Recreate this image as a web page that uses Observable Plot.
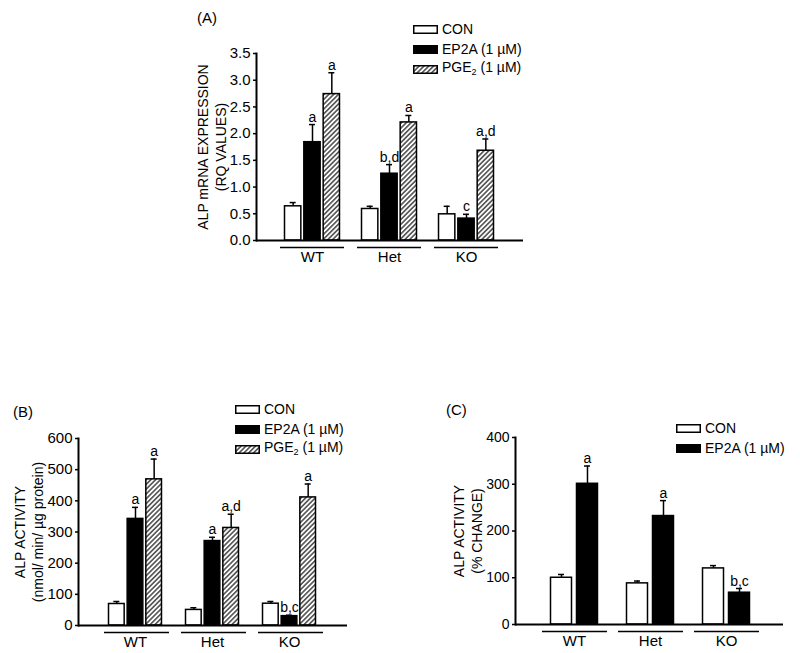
<!DOCTYPE html>
<html><head><meta charset="utf-8">
<script src="https://cdn.jsdelivr.net/npm/d3@7"></script>
<script src="https://cdn.jsdelivr.net/npm/@observablehq/plot@0.6"></script>
<style>
body{margin:0;background:#fff;}
#root{position:relative;width:800px;height:653px;overflow:hidden;background:#fff;font-family:"Liberation Sans",Arial,sans-serif;color:#000;}
.lab{position:absolute;font-size:15px;line-height:15px;white-space:nowrap}
.leg{position:absolute;font-size:14px;}
.leg .row{display:flex;align-items:center;height:20px;white-space:nowrap;line-height:14px}
.leg svg{margin-right:4px;flex:none}
</style></head><body>
<div id="root">
<svg width="0" height="0" style="position:absolute"><defs>
<pattern id="hatch" patternUnits="userSpaceOnUse" width="3.4" height="3.4" patternTransform="rotate(45)">
<rect width="3.4" height="3.4" fill="white"/><line x1="1.7" y1="0" x2="1.7" y2="3.4" stroke="black" stroke-width="1.1"/></pattern>
</defs></svg>
</div>
<script>
// ---------- data ----------
const groups = ["WT", "Het", "KO"];

// Panel A: ALP mRNA expression (RQ values)
const aCON = [0.64, 0.59, 0.49], aCONerr = [0.07, 0.05, 0.15];
const aEP2A = [1.84, 1.25, 0.41], aEP2Aerr = [0.33, 0.17, 0.08];
const aPGE2 = [2.74, 2.21, 1.68], aPGE2err = [0.40, 0.13, 0.22];
const aEP2Alet = ["a", "b,d", "c"], aPGE2let = ["a", "a", "a,d"];
const aTicks = [0, 0.5, 1.0, 1.5, 2.0, 2.5, 3.0, 3.5];

// Panel B: ALP activity (nmol/min/µg protein)
const bCON = [69, 50, 70], bCONerr = [8, 7, 7];
const bEP2A = [342, 271, 30], bEP2Aerr = [37, 12, 3];
const bPGE2 = [469, 313, 411], bPGE2err = [65, 44, 43];
const bEP2Alet = ["a", "a", "b,c"], bPGE2let = ["a", "a,d", "a"];
const bTicks = [0, 100, 200, 300, 400, 500, 600];

// Panel C: ALP activity (% change)
const cCON = [100, 88, 120], cCONerr = [7, 5, 6];
const cEP2A = [301, 232, 68], cEP2Aerr = [38, 33, 9];
const cEP2Alet = ["a", "a", "b,c"];
const cTicks = [0, 100, 200, 300, 400];

const FILL = {CON: "white", EP2A: "black", PGE2: "url(#hatch)"};
const LEG = {CON: "CON", EP2A: "EP2A (1 µM)", PGE2: "PGE<sub style='font-size:9px;vertical-align:-3px'>2</sub> (1 µM)"};

const root = document.getElementById("root");

function drawPanel(cfg) {
  const {series, left, top, width, height, mt, mr, mb, ml, range, paddingInner, gap,
         yDomain, yTicks, yFormat, tickFont, ylabel, ylabelDx, underL, underR} = cfg;
  const n = series.length;
  const band = d3.scaleBand().domain(groups).range(range).paddingInner(paddingInner).paddingOuter(0);
  const bw = band.bandwidth(), w = bw / n, cap = 6;
  const marks = [];
  series.forEach((s, t) => {
    const rows = groups.map((g, i) => ({group: g, mean: s.values[i], top: s.values[i] + s.errs[i], letter: s.lets ? s.lets[i] : ""}));
    const off = (t + 0.5) * w - bw / 2;
    marks.push(
      Plot.barY(rows, {x: "group", y: "mean", fill: FILL[s.key], stroke: "black", strokeWidth: 1.5,
        insetLeft: t * w + gap / 2, insetRight: (n - 1 - t) * w + gap / 2}),
      Plot.ruleX(rows, {x: "group", y1: "mean", y2: "top", dx: off, strokeWidth: 1.5}),
      Plot.tickY(rows, {x: "group", y: "top", dx: off, insetLeft: (bw - cap) / 2, insetRight: (bw - cap) / 2, strokeWidth: 1.5}),
      Plot.text(rows.filter(r => r.letter), {x: "group", y: "top", text: "letter", dx: off, dy: -3, lineAnchor: "bottom", fontSize: 14})
    );
  });
  marks.push(
    Plot.tickY(groups, {x: d => d, y: 0, dy: 7, insetLeft: underL, insetRight: underR, strokeWidth: 1.5}),
    Plot.ruleY([0], {strokeWidth: 2}),
    Plot.frame({anchor: "left", strokeWidth: 2}),
    Plot.axisY({ticks: yTicks, tickFormat: yFormat, tickSize: 3, tickPadding: 3, strokeWidth: 1.5, fontSize: tickFont, label: null}),
    Plot.axisX({tickSize: 0, tickPadding: 11, fontSize: 15, label: null}),
    Plot.text([ylabel], {text: d => d, frameAnchor: "left", textAnchor: "middle", dx: ylabelDx, rotate: -90, lineAnchor: "middle", lineHeight: 1.3, fontSize: 14})
  );
  const svg = Plot.plot({
    width, height, marginTop: mt, marginRight: mr, marginBottom: mb, marginLeft: ml,
    x: {type: "band", domain: groups, range, paddingInner, paddingOuter: 0, round: false},
    y: {domain: yDomain},
    style: {fontFamily: "'Liberation Sans', Arial, sans-serif", fontSize: "14px", background: "transparent", color: "black", overflow: "visible"},
    marks
  });
  svg.style.position = "absolute";
  svg.style.left = left + "px";
  svg.style.top = top + "px";
  root.appendChild(svg);
}

function legend(keys, left, top) {
  const d = document.createElement("div");
  d.className = "leg";
  d.style.left = left + "px"; d.style.top = top + "px";
  d.innerHTML = keys.map(k => `<div class="row"><svg width="25" height="9"><rect x="0.75" y="0.75" width="23.5" height="7.5" fill="${FILL[k]}" stroke="black" stroke-width="1.5"/></svg><span>${LEG[k]}</span></div>`).join("");
  root.appendChild(d);
}
function label(txt, left, top) {
  const d = document.createElement("div");
  d.className = "lab"; d.style.left = left + "px"; d.style.top = top + "px"; d.textContent = txt;
  root.appendChild(d);
}

// Panel A
drawPanel({
  series: [
    {key: "CON", values: aCON, errs: aCONerr},
    {key: "EP2A", values: aEP2A, errs: aEP2Aerr, lets: aEP2Alet},
    {key: "PGE2", values: aPGE2, errs: aPGE2err, lets: aPGE2let}
  ],
  left: 190, top: 0, width: 345, height: 280, mt: 53, mr: 12, mb: 40, ml: 66,
  range: [93, 305], paddingInner: 0.247, gap: 3,
  yDomain: [0, 3.5], yTicks: aTicks, yFormat: d3.format(".1f"), tickFont: 15,
  ylabel: "ALP mRNA EXPRESSION\n(RQ VALUES)", ylabelDx: -45, underL: -3, underR: -3
});
label("(A)", 197, 10);
legend(["CON", "EP2A", "PGE2"], 413, 19);

// Panel B
drawPanel({
  series: [
    {key: "CON", values: bCON, errs: bCONerr},
    {key: "EP2A", values: bEP2A, errs: bEP2Aerr, lets: bEP2Alet},
    {key: "PGE2", values: bPGE2, errs: bPGE2err, lets: bPGE2let}
  ],
  left: 0, top: 330, width: 357, height: 323, mt: 108, mr: 10, mb: 28, ml: 78,
  range: [107, 317], paddingInner: 0.273, gap: 3,
  yDomain: [0, 600], yTicks: bTicks, yFormat: d3.format("d"), tickFont: 15,
  ylabel: "ALP ACTIVITY\n(nmol/ min/ µg protein)", ylabelDx: -50, underL: -3, underR: -6
});
label("(B)", 13, 404);
legend(["CON", "EP2A", "PGE2"], 235, 399);

// Panel C
drawPanel({
  series: [
    {key: "CON", values: cCON, errs: cCONerr},
    {key: "EP2A", values: cEP2A, errs: cEP2Aerr, lets: cEP2Alet}
  ],
  left: 400, top: 330, width: 393, height: 323, mt: 107, mr: 10, mb: 29, ml: 115,
  range: [148, 352], paddingInner: 0.316, gap: 5,
  yDomain: [0, 400], yTicks: cTicks, yFormat: d3.format("d"), tickFont: 14,
  ylabel: "ALP ACTIVITY\n(% CHANGE)", ylabelDx: -48.5, underL: -6, underR: -7
});
label("(C)", 446, 402);
legend(["CON", "EP2A"], 676, 418);
</script>
</body></html>
